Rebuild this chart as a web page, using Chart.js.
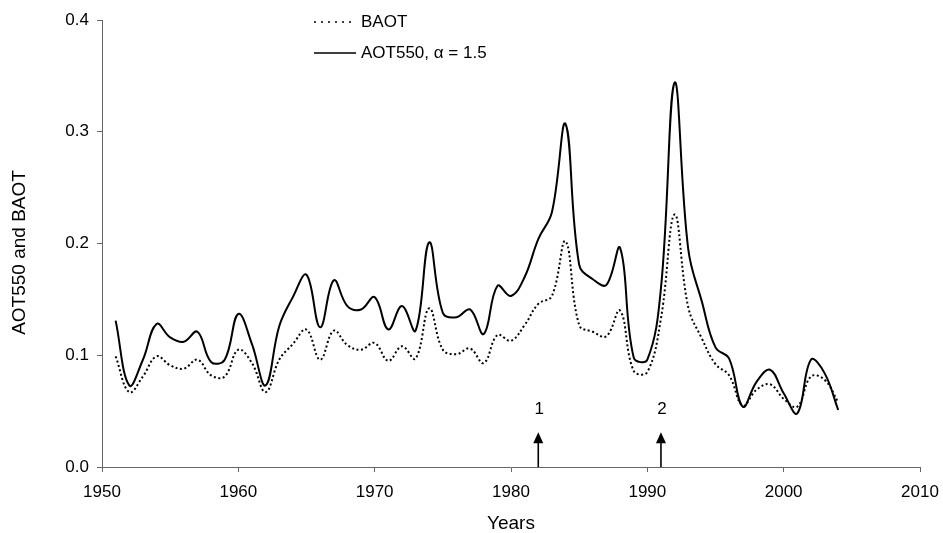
<!DOCTYPE html>
<html>
<head>
<meta charset="utf-8">
<script src="https://cdn.jsdelivr.net/npm/chart.js@4/dist/chart.umd.min.js"></script>
<style>
  html, body { margin: 0; padding: 0; background: #fff; }
  #wrap { width: 943px; height: 533px; }
</style>
</head>
<body>
<div id="wrap"><canvas id="c" width="943" height="533"></canvas></div>
<script>
const years = [1951,1952,1953,1954,1955,1956,1957,1958,1959,1960,
  1961,1962,1963,1964,1965,1966,1967,1968,1969,1970,
  1971,1972,1973,1974,1975,1976,1977,1978,1979,1980,
  1981,1982,1983,1984,1985,1986,1987,1988,1989,1990,
  1991,1992,1993,1994,1995,1996,1997,1998,1999,2000,
  2001,2002,2003,2004];
const aot550 = [0.131,0.073,0.096,0.128,0.116,0.112,0.121,0.094,0.096,0.137,
  0.110,0.073,0.126,0.152,0.172,0.125,0.167,0.144,0.141,0.152,
  0.123,0.144,0.122,0.201,0.138,0.134,0.141,0.119,0.162,0.153,
  0.170,0.204,0.228,0.307,0.181,0.168,0.163,0.196,0.098,0.096,
  0.160,0.344,0.195,0.148,0.107,0.097,0.054,0.076,0.087,0.066,
  0.048,0.096,0.084,0.051];
const baot = [0.099,0.067,0.081,0.099,0.091,0.088,0.096,0.082,0.081,0.105,
  0.093,0.067,0.096,0.110,0.123,0.096,0.122,0.109,0.105,0.111,
  0.095,0.108,0.097,0.142,0.105,0.101,0.106,0.093,0.118,0.113,
  0.127,0.146,0.153,0.202,0.127,0.121,0.117,0.140,0.086,0.085,
  0.133,0.226,0.143,0.115,0.092,0.082,0.055,0.069,0.074,0.061,
  0.054,0.081,0.078,0.058];
const xTicks = [1950,1960,1970,1980,1990,2000,2010];
const yTicks = [0.0,0.1,0.2,0.3,0.4];
const arrowYears = [1982, 1991];
const arrowLabels = ['1', '2'];
const arrowTip = 0.031;
const arrowLabelValue = 0.052;
const yTitle = 'AOT550 and BAOT';
const xTitle = 'Years';

const FONT = '"Liberation Sans", Arial, Helvetica, sans-serif';
const AXIS = '#666666';

const toPts = (vals) => years.map((y, i) => ({x: y, y: vals[i]}));

const legendPlugin = {
  id: 'customLegend',
  afterDraw(chart) {
    const ctx = chart.ctx;
    const a = chart.chartArea;
    const x0 = a.left + 212, x1 = a.left + 254, tx = a.left + 259;
    const rows = [a.top + 2, a.top + 33];
    ctx.save();
    ctx.font = '17px ' + FONT;
    ctx.fillStyle = '#000';
    ctx.textBaseline = 'middle';
    chart.data.datasets.forEach((ds, i) => {
      const y = rows[i];
      ctx.beginPath();
      ctx.strokeStyle = '#000';
      ctx.lineWidth = ds.legendWidth;
      ctx.setLineDash(ds.legendDash);
      ctx.moveTo(x0, y);
      ctx.lineTo(x1, y);
      ctx.stroke();
      ctx.setLineDash([]);
      ctx.fillText(ds.label, tx, y);
    });
    // y-axis title
    ctx.save();
    ctx.translate(20, (a.top + a.bottom) / 2 + 9);
    ctx.rotate(-Math.PI / 2);
    ctx.font = '19px ' + FONT;
    ctx.textAlign = 'center';
    ctx.textBaseline = 'middle';
    ctx.fillText(yTitle, 0, 0);
    ctx.restore();
    ctx.restore();
  }
};

const arrowPlugin = {
  id: 'arrows',
  afterDatasetsDraw(chart) {
    const ctx = chart.ctx;
    const xs = chart.scales.x, ys = chart.scales.y;
    ctx.save();
    ctx.fillStyle = '#000';
    ctx.strokeStyle = '#000';
    ctx.font = '17px ' + FONT;
    ctx.textAlign = 'center';
    ctx.textBaseline = 'middle';
    arrowYears.forEach((yr, i) => {
      const px = xs.getPixelForValue(yr);
      const yb = ys.getPixelForValue(0);
      const yt = ys.getPixelForValue(arrowTip);
      ctx.lineWidth = 1.6;
      ctx.beginPath();
      ctx.moveTo(px, yb);
      ctx.lineTo(px, yt + 8);
      ctx.stroke();
      ctx.beginPath();
      ctx.moveTo(px, yt);
      ctx.lineTo(px - 5, yt + 11);
      ctx.lineTo(px + 5, yt + 11);
      ctx.closePath();
      ctx.fill();
      ctx.fillText(arrowLabels[i], px + 1, ys.getPixelForValue(arrowLabelValue));
    });
    ctx.restore();
  }
};

new Chart(document.getElementById('c'), {
  type: 'line',
  data: {
    datasets: [
      {
        label: 'BAOT',
        data: toPts(baot),
        borderColor: '#000',
        borderWidth: 2,
        borderDash: [2, 2.5],
        pointRadius: 0,
        tension: 0.4,
        fill: false,
        legendDash: [2, 5],
        legendWidth: 1.6
      },
      {
        label: 'AOT550, \u03b1 = 1.5',
        data: toPts(aot550),
        borderColor: '#000',
        borderWidth: 2,
        pointRadius: 0,
        tension: 0.4,
        fill: false,
        legendDash: [],
        legendWidth: 1.6
      }
    ]
  },
  options: {
    responsive: false,
    animation: false,
    events: [],
    layout: { padding: { top: 20, right: 23, bottom: 0, left: 0 } },
    plugins: {
      legend: { display: false },
      tooltip: { enabled: false }
    },
    scales: {
      x: {
        type: 'linear',
        min: 1950,
        max: 2010,
        afterBuildTicks: (s) => { s.ticks = xTicks.map(v => ({value: v})); },
        afterFit: (s) => { s.height = 66; s.paddingLeft = 0; s.paddingRight = 0; },
        ticks: {
          callback: (v) => String(v),
          color: '#000',
          font: { family: FONT, size: 17 },
          padding: 10,
          maxRotation: 0,
          autoSkip: false
        },
        grid: { display: true, drawOnChartArea: false, drawTicks: true, tickLength: 5, color: AXIS },
        border: { display: true, color: AXIS, width: 1 },
        title: {
          display: true,
          text: xTitle,
          color: '#000',
          font: { family: FONT, size: 19, lineHeight: 1.0 },
          padding: { top: 0, bottom: 0 }
        }
      },
      y: {
        type: 'linear',
        min: 0,
        max: 0.4,
        afterBuildTicks: (s) => { s.ticks = yTicks.map(v => ({value: v})); },
        afterFit: (s) => { s.width = 102; s.paddingTop = 0; s.paddingBottom = 0; },
        ticks: {
          callback: (v) => Number(v).toFixed(1),
          color: '#000',
          font: { family: FONT, size: 17 },
          padding: 8
        },
        grid: { display: true, drawOnChartArea: false, drawTicks: true, tickLength: 5, color: AXIS },
        border: { display: true, color: AXIS, width: 1 },
        title: { display: false }
      }
    }
  },
  plugins: [legendPlugin, arrowPlugin]
});
</script>
</body>
</html>
